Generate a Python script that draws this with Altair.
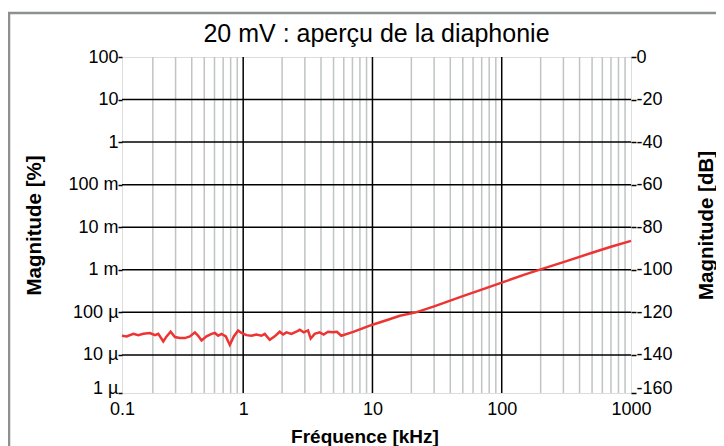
import math
import altair as alt
import pandas as pd

# ---------------- data ----------------
freq_khz = [0.1155, 0.1256, 0.1413, 0.1544, 0.1687, 0.19, 0.2077, 0.2204, 0.2409, 0.2556,
            0.2744, 0.2965, 0.324, 0.3541, 0.387, 0.423, 0.4488, 0.4763, 0.5206, 0.569,
            0.6036, 0.6406, 0.6797, 0.7342, 0.788, 0.8462, 0.9137, 0.9697, 1.06, 1.158,
            1.266, 1.384, 1.468, 1.605, 1.754, 1.917, 2.035, 2.159, 2.36, 2.579,
            2.736, 2.938, 3.174, 3.328, 3.572, 3.905, 4.193, 4.529, 4.949, 5.313,
            5.74, 7.1, 10.0, 13.0, 16.3, 21.7, 30.0, 50.0, 70.0, 100.0,
            150.0, 200.0, 300.0, 500.0, 700.0, 1000.0]
mag_db = [-131.0, -131.3, -130.1, -130.7, -130.1, -129.7, -130.7, -130.1, -133.7, -131.3,
          -129.1, -131.6, -132.0, -132.1, -131.3, -129.4, -131.0, -133.2, -131.3, -130.1,
          -129.7, -131.0, -130.1, -131.3, -135.3, -131.3, -128.5, -129.7, -130.7, -131.0,
          -130.4, -131.0, -130.1, -132.9, -131.3, -129.1, -130.4, -129.4, -130.1, -129.1,
          -128.2, -129.4, -128.5, -132.3, -130.1, -129.4, -130.4, -129.1, -129.4, -129.1,
          -131.0, -129.2, -125.8, -123.6, -121.6, -120.0, -117.2, -112.4, -109.3, -106.0,
          -102.3, -99.8, -96.4, -92.0, -89.2, -86.4]

minor_freqs = [0.2, 0.3, 0.4, 0.5, 0.6, 0.7, 0.8, 0.9,
               2, 3, 4, 5, 6, 7, 8, 9,
               20, 30, 40, 50, 60, 70, 80, 90,
               200, 300, 400, 500, 600, 700, 800, 900]
major_freqs = [1, 10, 100]
x_domain = [0.1155, 1000]
x_tick_values = [0.1155, 1, 10, 100, 1000]
x_tick_labels = ["0.1", "1", "10", "100", "1000"]

db_domain = [-157.9, 0]
db_grid = [-140, -120, -100, -80, -60, -40, -20]
db_tick_values = [-157.9, -140, -120, -100, -80, -60, -40, -20, 0]
db_tick_labels = ["-160", "-140", "-120", "-100", "-80", "-60", "-40", "-20", "0"]

pct_domain = [1.27e-6, 100]
pct_tick_values = [1.27e-6, 1e-5, 1e-4, 1e-3, 1e-2, 1e-1, 1, 10, 100]
pct_tick_labels = ["1 µ", "10 µ", "100 µ", "1 m", "10 m", "100 m", "1", "10", "100"]

TITLE = "20 mV : aperçu de la diaphonie"
FONT = "Liberation Sans"
RED = "#ee3333"
MINOR = "#c0c4c4"
FRAME = "#8c9090"


def label_expr(values, labels, log=False):
    expr = "'" + labels[-1] + "'"
    for i in range(len(values) - 2, -1, -1):
        a, b = values[i], values[i + 1]
        mid = math.sqrt(a * b) if log else (a + b) / 2
        expr = f"datum.value < {mid!r} ? '{labels[i]}' : ({expr})"
    return expr


line_df = pd.DataFrame({"f": freq_khz, "db": mag_db})
minor_df = pd.DataFrame({"f": minor_freqs})
major_df = pd.DataFrame({"f": major_freqs})
hgrid_df = pd.DataFrame({"db": db_grid})
pct_df = pd.DataFrame({"pct": pct_tick_values})

xscale = alt.Scale(type="log", domain=x_domain, nice=False)
dbscale = alt.Scale(domain=db_domain, nice=False, zero=False)

x_axis = alt.Axis(
    values=x_tick_values,
    labelExpr=label_expr(x_tick_values, x_tick_labels, log=True),
    title="Fréquence [kHz]",
    titleFont=FONT, titleFontSize=19, titleFontWeight="bold", titleColor="black",
    titleX=242.5, titleY=43, titleBaseline="middle", titleAlign="center",
    labelFont=FONT, labelFontSize=18, labelColor="black", labelFlush=False,
    labelPadding=7, tickSize=0, ticks=False, domain=False, grid=False,
    labelOverlap=False,
)

right_axis = alt.Axis(
    orient="right",
    values=db_tick_values,
    labelExpr=label_expr(db_tick_values, db_tick_labels),
    labelBaseline=alt.condition("datum.value < -150", alt.value("alphabetic"), alt.value("middle")),
    title="Magnitude [dB]",
    titleFont=FONT, titleFontSize=20.5, titleFontWeight="bold", titleColor="black",
    titleAngle=270, titleX=75, titleY=168, titleBaseline="middle", titleAlign="center",
    labelFont=FONT, labelFontSize=18, labelColor="black", labelFlush=False,
    tickSize=5, tickColor="black", tickWidth=1.5, labelPadding=0,
    domain=False, grid=False, labelOverlap=False,
)

left_axis = alt.Axis(
    orient="left",
    values=pct_tick_values,
    labelExpr=label_expr(pct_tick_values, pct_tick_labels, log=True),
    labelBaseline=alt.condition("datum.value < 2e-6", alt.value("alphabetic"), alt.value("middle")),
    title="Magnitude [%]",
    titleFont=FONT, titleFontSize=20.5, titleFontWeight="bold", titleColor="black",
    titleAngle=270, titleX=-88, titleY=168, titleBaseline="middle", titleAlign="center",
    labelFont=FONT, labelFontSize=18, labelColor="black", labelFlush=False,
    tickSize=4, tickColor="black", tickWidth=1.5, labelPadding=0,
    domain=False, grid=False, labelOverlap=False,
)

minor = alt.Chart(minor_df).mark_rule(color=MINOR, strokeWidth=1.5).encode(
    x=alt.X("f:Q", scale=xscale)
)
vmajor = alt.Chart(major_df).mark_rule(color="black", strokeWidth=1.5).encode(
    x=alt.X("f:Q", scale=xscale)
)
hmajor = alt.Chart(hgrid_df).mark_rule(color="black", strokeWidth=1.5).encode(
    y=alt.Y("db:Q", scale=dbscale)
)
line = alt.Chart(line_df).mark_line(color=RED, strokeWidth=2.5).encode(
    x=alt.X("f:Q", scale=xscale, axis=x_axis),
    y=alt.Y("db:Q", scale=dbscale, axis=right_axis),
)
frame_v = alt.Chart(alt.Data(values=[{}])).mark_rule(color=FRAME, strokeWidth=2.5).encode(
    x=alt.value(-113), y=alt.value(-44), y2=alt.value(400)
)
frame_h = alt.Chart(alt.Data(values=[{}])).mark_rule(color=FRAME, strokeWidth=2.5).encode(
    y=alt.value(-44), x=alt.value(-114), x2=alt.value(620)
)
title = alt.Chart(alt.Data(values=[{}])).mark_text(
    text=TITLE, font=FONT, fontSize=25, color="black", align="center", baseline="alphabetic"
).encode(x=alt.value(254.5), y=alt.value(-15))

inner = alt.layer(frame_v, frame_h, title, minor, vmajor, hmajor, line)

left = alt.Chart(pct_df).mark_point(opacity=0).encode(
    x=alt.value(0),
    y=alt.Y("pct:Q", scale=alt.Scale(type="log", domain=pct_domain, nice=False), axis=left_axis),
)

chart = alt.layer(inner, left).resolve_scale(y="independent").properties(
    width=509,
    height=336,
    autosize=alt.AutoSizeParams(type="none"),
    padding={"left": 114, "top": 49, "right": 85, "bottom": 53},
).configure_view(stroke="black", strokeWidth=1.5).configure(background="white")

chart.save("out.html", embed_options={"renderer": "svg", "actions": False})
